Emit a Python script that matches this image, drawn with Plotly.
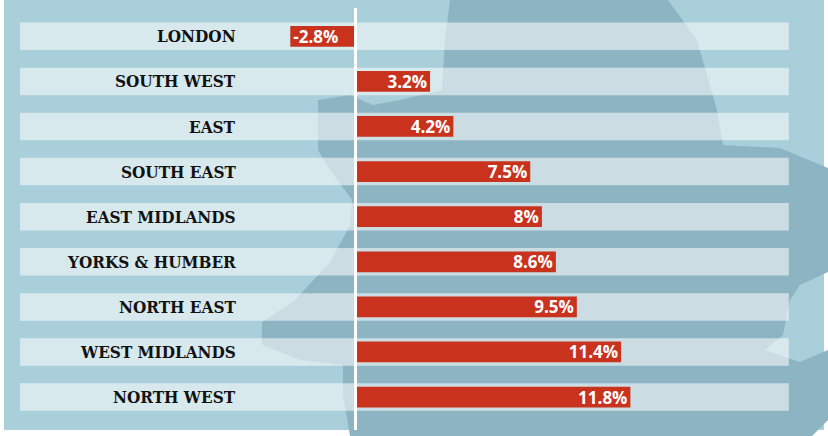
import plotly.graph_objects as go

# Données
regions = ["LONDON", "SOUTH WEST", "EAST", "SOUTH EAST", "EAST MIDLANDS",
           "YORKS & HUMBER", "NORTH EAST", "WEST MIDLANDS", "NORTH WEST"]
changes = [-2.8, 3.2, 4.2, 7.5, 8, 8.6, 9.5, 11.4, 11.8]
value_labels = [f"{v:g}%" for v in changes]

# Styles
SEA = "#a9cfda"
LAND = "#8cb4c2"
RED = "#c9321d"
BAND = "rgba(255,255,255,0.55)"
BAND_LEFT, BAND_RIGHT = -14.4, 18.6
LABEL_X = -5.06

W, H = 828, 436
ML, MR, MT, MB = 4, 4, 0, 6
PW, PH = W - ML - MR, H - MT - MB

# contour approximatif de la carte en fond (pixels)
land_px = [(450, 0), (668, 0), (697, 40), (717, 110), (723, 145), (780, 148),
           (828, 168), (828, 272), (800, 285), (790, 300), (783, 335),
           (765, 350), (800, 362), (828, 350), (828, 420), (812, 436),
           (350, 436), (343, 395), (343, 365), (300, 360), (262, 345),
           (262, 322), (295, 300), (330, 262), (350, 225), (352, 200),
           (330, 170), (318, 150), (318, 100), (350, 95), (373, 105),
           (400, 100), (442, 90), (445, 40)]


def to_path(pts):
    parts = []
    for i, (px, py) in enumerate(pts):
        xp = (px - ML) / PW
        yp = 1 - (py - MT) / PH
        parts.append(("M" if i == 0 else "L") + f"{xp:.4f},{yp:.4f}")
    return " ".join(parts) + " Z"


fig = go.Figure()

# bandes claires
fig.add_trace(go.Bar(
    y=regions, x=[BAND_RIGHT - BAND_LEFT] * len(regions), base=BAND_LEFT,
    orientation="h", width=0.61, marker_color=BAND, marker_line_width=0,
    hoverinfo="skip", showlegend=False))

# barres
fig.add_trace(go.Bar(
    y=regions, x=changes, orientation="h", width=0.46,
    marker_color=RED, marker_line_width=0,
    text=value_labels, textposition="inside", insidetextanchor="end",
    textfont=dict(family="Open Sans", size=17, color="white", weight="bold"),
    showlegend=False))

# noms des régions
for r in regions:
    fig.add_annotation(x=LABEL_X, y=r, text=r, showarrow=False,
                       xanchor="right", yanchor="middle",
                       font=dict(family="DejaVu Serif Condensed, DejaVu Serif",
                                 size=17, color="#111111", weight="bold"))

fig.add_shape(type="path", path=to_path(land_px), xref="paper", yref="paper",
              fillcolor=LAND, line_width=0, layer="below")
fig.add_shape(type="line", x0=0, x1=0, xref="x", y0=0, y1=1 - 8 / PH,
              yref="paper", line=dict(color="white", width=3), layer="above")

fig.update_layout(
    width=W, height=H, barmode="overlay",
    margin=dict(l=ML, r=MR, t=MT, b=MB),
    paper_bgcolor="white", plot_bgcolor=SEA,
    uniformtext=dict(minsize=17, mode="show"),
    xaxis=dict(range=[-15.09, 20.11], visible=False, fixedrange=True),
    yaxis=dict(categoryorder="array", categoryarray=regions,
               range=[8.73, -0.805], visible=False, fixedrange=True),
)

# pas de marge de page autour du graphique
fig.write_html("out.html", config={"displayModeBar": False},
               post_script="document.body.style.margin='0';"
                           "document.body.style.overflow='hidden';")
